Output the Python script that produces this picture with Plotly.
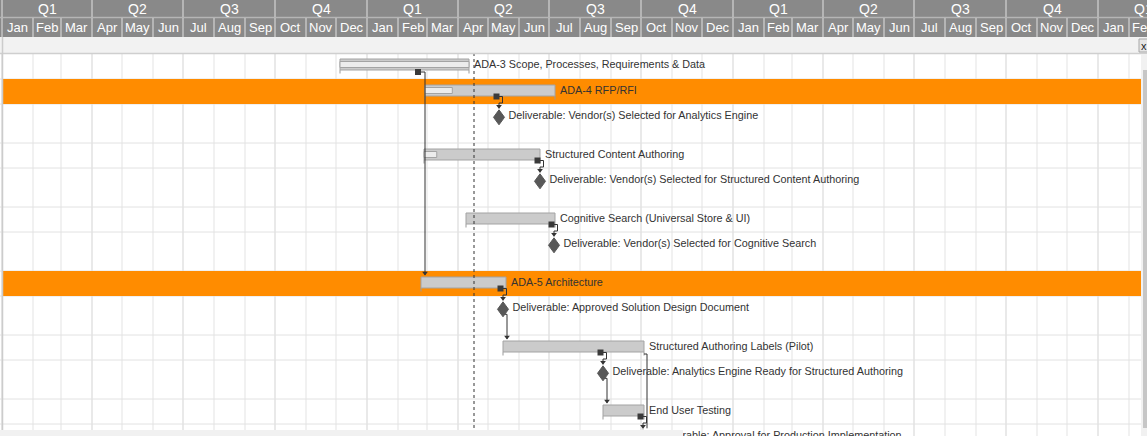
import pandas as pd
import plotly.graph_objects as go

W, H = 1147, 436
ORIGIN = pd.Timestamp("2018-12-30")          # left edge of the timeline
X_END = ORIGIN + pd.Timedelta(days=W)

# ---------------- data ----------------
task_names = [
    "ADA-3 Scope, Processes, Requirements & Data",
    "ADA-4 RFP/RFI",
    "Deliverable: Vendor(s) Selected for Analytics Engine",
    "Structured Content Authoring",
    "Deliverable: Vendor(s) Selected for Structured Content Authoring",
    "Cognitive Search (Universal Store & UI)",
    "Deliverable: Vendor(s) Selected for Cognitive Search",
    "ADA-5 Architecture",
    "Deliverable: Approved Solution Design Document",
    "Structured Authoring Labels (Pilot)",
    "Deliverable: Analytics Engine Ready for Structured Authoring",
    "End User Testing",
    "Deliverable: Approval for Production Implementation",
]
task_kind = ["task", "task", "milestone", "task", "milestone", "task", "milestone",
             "task", "milestone", "task", "milestone", "task", "milestone"]
task_start = ["2019-12-05", "2020-02-28", "2020-05-12", "2020-02-27", "2020-06-22",
              "2020-04-09", "2020-07-06", "2020-02-24", "2020-05-16", "2020-05-16",
              "2020-08-24", "2020-08-24", "2020-10-03"]
task_end = ["2020-04-12", "2020-07-07", None, "2020-06-22", None,
            "2020-07-07", None, "2020-05-19", None, "2020-10-04",
            None, "2020-10-04", None]
task_progress = [1.0, 0.21, None, 0.11, None, 0.0, None, 0.0, None, 0.0, None, 0.0, None]
task_highlight = [False, True, False, False, False, False, False,
                  True, False, False, False, False, False]
dependencies = [(0, 7), (1, 2), (3, 4), (5, 6), (7, 8), (8, 9),
                (9, 10), (10, 11), (11, 12), (9, 12)]
today = "2020-04-17"

month_abbr = ["Jan", "Feb", "Mar", "Apr", "May", "Jun",
              "Jul", "Aug", "Sep", "Oct", "Nov", "Dec"]
quarter_labels = ["Q1", "Q2", "Q3", "Q4"]

# ---------------- layout helpers ----------------
BODY_TOP = 53
row_h = []
for i, k in enumerate(task_kind):
    row_h.append(26 if i == 0 else (39 if k == "milestone" else 25))
row_top = []
y = BODY_TOP
for h in row_h:
    row_top.append(y)
    y += h

T = pd.Timestamp
def off(d, px):
    return T(d) + pd.Timedelta(days=px)
def s(d):
    return T(d).strftime("%Y-%m-%d %H:%M:%S")

BAR_H = 11
def bar_c(i): return row_top[i] + 11.5
def bar_top(i): return bar_c(i) - BAR_H / 2
def bar_bot(i): return bar_c(i) + BAR_H / 2
def ms_c(i): return row_top[i] + 13.3
MS_HW, MS_HH = 5.5, 7.5

shapes = []
annotations = []

def line(x0, y0, x1, y1, color, width=1, layer="below", dash=None):
    d = dict(type="line", xref="x", yref="y", x0=s(x0), x1=s(x1), y0=y0, y1=y1,
             line=dict(color=color, width=width), layer=layer)
    if dash:
        d["line"]["dash"] = dash
    shapes.append(d)

def rect(x0, y0, x1, y1, fill, layer="below", lc=None, lw=0):
    shapes.append(dict(type="rect", xref="x", yref="y", x0=s(x0), x1=s(x1), y0=y0, y1=y1,
                       fillcolor=fill, line=dict(color=lc or fill, width=lw), layer=layer))

month_starts = pd.date_range("2019-01-01", "2022-03-01", freq="MS")

# ---------------- grid ----------------
for m in month_starts:
    if ORIGIN <= m <= X_END:
        col = "#d3d3d3" if m.month in (1, 4, 7, 10) else "#e3e3e3"
        line(m, BODY_TOP, m, H, col, 1)
for t in row_top[1:] + [row_top[-1] + 25]:
    line(ORIGIN, t, X_END, t, "#e2e2e2", 1)

# highlighted rows
for i, hl in enumerate(task_highlight):
    if hl:
        rect(off(ORIGIN, 3), row_top[i], off(ORIGIN, 1141), row_top[i] + row_h[i], "#FF8C00")

fig = go.Figure()

# ---------------- bars ----------------
bi = [i for i, k in enumerate(task_kind) if k == "task"]
durs = [(T(task_end[i]) - T(task_start[i])).total_seconds() * 1000 for i in bi]
fig.add_trace(go.Bar(
    orientation="h", base=[task_start[i] for i in bi], x=durs,
    y=[bar_c(i) for i in bi], width=BAR_H,
    marker=dict(color="#cbcbcb", line=dict(color="#a3a3a3", width=1)),
    hoverinfo="skip", showlegend=False))
pi = [i for i in bi if task_progress[i] > 0]
fig.add_trace(go.Bar(
    orientation="h", base=[task_start[i] for i in pi],
    x=[(T(task_end[i]) - T(task_start[i])).total_seconds() * 1000 * task_progress[i] for i in pi],
    y=[bar_c(i) for i in pi], width=6,
    marker=dict(color="#ececec", line=dict(color="#a3a3a3", width=1)),
    hoverinfo="skip", showlegend=False))

# end ticks under bars
for i in bi:
    for d in (task_start[i], task_end[i]):
        line(T(d), bar_bot(i), T(d), bar_bot(i) + 3.5, "#9a9a9a", 1)

# ---------------- dependencies ----------------
cx, cy, sqx, sqy, arx, ary = [], [], [], [], [], []
def path(pts):
    for (px, py) in pts:
        cx.append(s(px)); cy.append(py)
    cx.append(None); cy.append(None)

for p, q in dependencies:
    if task_kind[p] == "task" and task_kind[q] == "milestone":
        mx = T(task_start[q])
        tip = ms_c(q) - MS_HH - 1.5
        if q == p + 1:
            yb = bar_bot(p) + 0.5
            sqx.append(s(off(mx, -2.5))); sqy.append(yb)
            path([(off(mx, -2.5), yb), (off(mx, 3.5), yb), (off(mx, 3.5), row_top[p] + 24),
                  (mx, row_top[p] + 24), (mx, tip)])
        else:
            ex = T(task_end[p])
            path([(ex, bar_bot(p) + 2), (off(ex, 3), bar_bot(p) + 2), (off(ex, 3), tip)])
            continue
        arx.append(s(mx)); ary.append(tip - 2)
    elif task_kind[p] == "task" and task_kind[q] == "task":
        sx = T(task_start[q])
        yb = bar_bot(p) + 2
        tip = bar_top(q) - 2
        sqx.append(s(off(sx, -3))); sqy.append(yb)
        path([(off(sx, -3), yb), (off(sx, 4), yb), (off(sx, 4), tip)])
        arx.append(s(off(sx, 4))); ary.append(tip - 2)
    else:
        mx = T(task_start[p])
        yb = ms_c(p) + 5
        tip = bar_top(q) - 2
        path([(mx, yb), (off(mx, 4), yb), (off(mx, 4), tip)])
        arx.append(s(off(mx, 4))); ary.append(tip - 2)

fig.add_trace(go.Scatter(x=cx, y=cy, mode="lines", line=dict(color="#333333", width=1),
                         hoverinfo="skip", showlegend=False))
fig.add_trace(go.Scatter(x=sqx, y=sqy, mode="markers",
                         marker=dict(symbol="square", size=6, color="#3a3a3a"),
                         hoverinfo="skip", showlegend=False))
fig.add_trace(go.Scatter(x=arx, y=ary, mode="markers",
                         marker=dict(symbol="triangle-down", size=5, color="#333333"),
                         hoverinfo="skip", showlegend=False))

# milestones (diamonds)
dxs, dys = [], []
for i, k in enumerate(task_kind):
    if k == "milestone":
        m = T(task_start[i]); c = ms_c(i)
        for (a, b) in [(0, -MS_HH), (MS_HW, 0), (0, MS_HH), (-MS_HW, 0), (0, -MS_HH)]:
            dxs.append(s(off(m, a))); dys.append(c + b)
        dxs.append(None); dys.append(None)
fig.add_trace(go.Scatter(x=dxs, y=dys, mode="lines", fill="toself", fillcolor="#585858",
                         line=dict(color="#585858", width=1), hoverinfo="skip", showlegend=False))

# labels
lx, ly = [], []
for i, k in enumerate(task_kind):
    if k == "task":
        lx.append(s(off(task_end[i], 5))); ly.append(row_top[i] + 12.5)
    else:
        lx.append(s(off(task_start[i], 9.5))); ly.append(row_top[i] + 12)
fig.add_trace(go.Scatter(x=lx, y=ly, mode="text", text=task_names, textposition="middle right",
                         textfont=dict(family="Arial, Liberation Sans", size=10.8, color="#333333"),
                         hoverinfo="skip", showlegend=False))

# today line
line(T(today), BODY_TOP, T(today), H, "#333333", 1, layer="above", dash="3px,3px")

# ---------------- header / chrome ----------------
rect(ORIGIN, 0, X_END, 37, "#898989", layer="above")
line(ORIGIN, 17.5, X_END, 17.5, "#b5b5b5", 1.5, layer="above")
rect(ORIGIN, 37, X_END, 53, "#f2f2f2", layer="above")
line(ORIGIN, 53.5, X_END, 53.5, "#cfcfcf", 1.5, layer="above")
line(off(ORIGIN, 2.5), 37, off(ORIGIN, 2.5), H, "#cccccc", 1.5, layer="above")

for j, m in enumerate(month_starts[:-1]):
    nxt = month_starts[j + 1]
    if m < ORIGIN or m >= X_END:
        continue
    line(m, 18, m, 37, "#c4c4c4", 1.5, layer="above")
    mid = m + (nxt - m) / 2
    annotations.append(dict(x=s(mid), y=27.5, xref="x", yref="y", text=month_abbr[m.month - 1],
                            showarrow=False, font=dict(family="Arial, Liberation Sans", size=13, color="white")))
    if m.month in (1, 4, 7, 10):
        line(m, 0, m, 17, "#c4c4c4", 1.5, layer="above")
        qend = m + pd.DateOffset(months=3)
        qmid = m + (qend - m) / 2
        annotations.append(dict(x=s(qmid), y=8.5, xref="x", yref="y",
                                text=quarter_labels[(m.month - 1) // 3], showarrow=False,
                                font=dict(family="Arial, Liberation Sans", size=14, color="white")))

# close button
rect(off(ORIGIN, 1139), 39, off(ORIGIN, 1150), 52, "#e6e6e6", layer="above", lc="#a8a8a8", lw=1)
annotations.append(dict(x=s(off(ORIGIN, 1144)), y=45.5, xref="x", yref="y", text="x", showarrow=False,
                        font=dict(family="Arial, Liberation Sans", size=11, color="#222")))
# scrollbars
rect(off(ORIGIN, 1141), BODY_TOP + 1, X_END, H, "#f1f1f1", layer="above")
rect(off(ORIGIN, 1143), 70, X_END, 428, "#c6c6c6", layer="above")
rect(ORIGIN, 430, off(ORIGIN, 683), H, "#f1f1f1", layer="above")

fig.update_layout(
    width=W, height=H, margin=dict(l=0, r=0, t=0, b=0),
    paper_bgcolor="white", plot_bgcolor="white",
    barmode="overlay", showlegend=False,
    xaxis=dict(type="date", range=[s(ORIGIN), s(X_END)], domain=[0, 1],
               showgrid=False, zeroline=False, showticklabels=False, ticks="", fixedrange=True),
    yaxis=dict(range=[H, 0], domain=[0, 1], showgrid=False, zeroline=False,
               showticklabels=False, ticks="", fixedrange=True),
    shapes=shapes, annotations=annotations,
)
fig.write_html("out.html", config={"displayModeBar": False})
